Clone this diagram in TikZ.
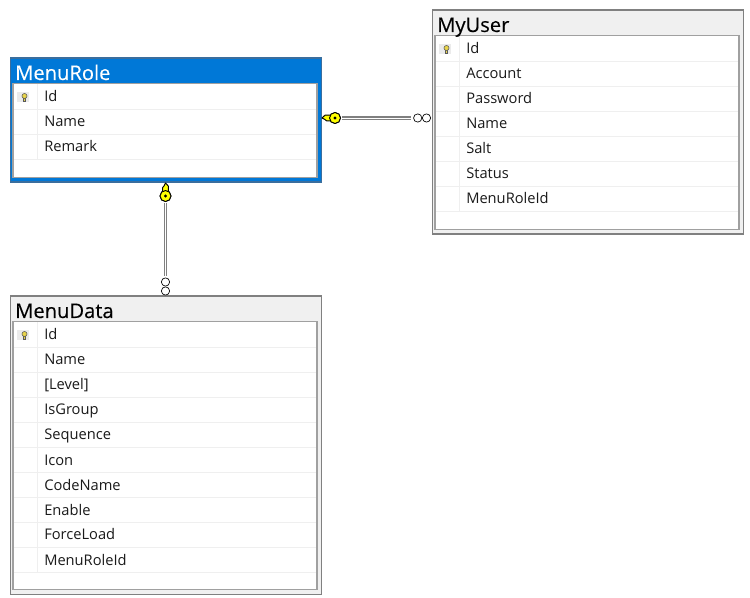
\documentclass[tikz,border=0pt]{standalone}
\usepackage{fontspec}
\setmainfont{Open Sans}
\newfontfamily\titlefont[FakeBold=0.25]{Open Sans}
\definecolor{selblue}{HTML}{0078D7}
\definecolor{selframe}{HTML}{3A6E9E}
\definecolor{framegray}{HTML}{808080}
\definecolor{titlegray}{HTML}{F0F0F0}
\definecolor{rowline}{HTML}{EFEFEF}
\definecolor{innergray}{HTML}{A0A0A0}
\definecolor{rowtext}{HTML}{1A1A1A}
\definecolor{keyyellow}{HTML}{FFFF00}
\definecolor{keygold}{HTML}{E8D44A}
\tikzset{
  tableframe/.style={draw=#1,line width=.9pt,inner sep=0pt,anchor=north west},
  innerframe/.style={draw=innergray,fill=white,line width=1.1pt},
  rowsep/.style={draw=rowline,line width=.75pt},
  rowlabel/.style={anchor=base west,inner sep=0pt,font=\fontsize{11pt}{12pt}\selectfont,text=rowtext},
  titlelabel/.style={anchor=base west,inner sep=0pt,font=\titlefont\fontsize{15.1pt}{16pt}\selectfont},
  relline/.style={draw=framegray,double=white,double distance=.7pt,line width=.9pt,shorten <=1pt,shorten >=1.5pt},
  loopend/.style={circle,draw=black,fill=white,line width=.5pt,minimum size=6.2pt,inner sep=0pt},
  keyend/.style={circle,draw=black,fill=keyyellow,line width=.7pt,minimum size=8.2pt,inner sep=0pt},
  keydot/.style={fill=black},
  keyshaft/.style={draw=black,fill=keyyellow,line width=.7pt,line join=round},
  rowkeybg/.style={fill=black!8,draw=none},
  rowkeyicon/.style={fill=keygold,draw=black!65,line width=.4pt},
}
% name, x, y, w, h, frame colour, title fill, rows
\newcommand{\dbtable}[8]{%
  \node[tableframe=#6,fill=#7,minimum width=#4*.75pt,minimum height=#5*.75pt] (#1) at (#2,#3) {};
  \draw[innerframe] (#2+3.5,#3+26) rectangle (#2+#4-3.5,#3+#5-4);
  \draw[rowsep] (#2+27.5,#3+27) -- (#2+27.5,{#3+#5-21});
  \fill[rowkeybg] (#2+7,#3+35) rectangle (#2+19,#3+45);
  \filldraw[rowkeyicon] (#2+14,#3+39) rectangle (#2+16,#3+44);
  \filldraw[rowkeyicon] (#2+15,#3+38.5) circle (1.9pt);
  \foreach \lab [count=\i from 0] in {#8} {
    \node[rowlabel] (#1-row\i) at (#2+34.5,#3+44.5+25*\i) {\lab};
    \draw[rowsep] (#2+4.5,#3+52+25*\i) -- (#2+#4-4.5,#3+52+25*\i);
  }
}
\begin{document}
\begin{tikzpicture}[x=.75pt,y=-.75pt]
\useasboundingbox (0,0) rectangle (750,598);
\fill[white] (0,0) rectangle (750,598);

\dbtable{role}{9.5}{57.5}{311}{124}{selframe}{selblue}{Id,Name,Remark}
\node[titlelabel,text=white] (roletitle) at (15,80) {MenuRole};

\dbtable{user}{431.5}{9.5}{311}{224}{framegray}{titlegray}{Id,Account,Password,Name,Salt,Status,MenuRoleId}
\node[titlelabel,text=black] (usertitle) at (437,32) {MyUser};

\dbtable{data}{9.5}{295.5}{311}{298}{framegray}{titlegray}{Id,Name,[Level],IsGroup,Sequence,Icon,CodeName,Enable,ForceLoad,MenuRoleId}
\node[titlelabel,text=black] (datatitle) at (15,318) {MenuData};

% relationship MenuRole -- MyUser
\node[loopend] (uloopa) at (417.7,118) {};
\node[loopend] (uloopb) at (426.5,118) {};
\node[keyend] (ukey) at (335,118) {};
\coordinate (utip) at (322,118);
\draw[relline] (ukey.east) -- (uloopa.west);
\draw[keyshaft] (utip) -- ([shift={(-10,-2.8)}]ukey.center) -- ([shift={(0,-2.8)}]ukey.center) -- ([shift={(0,2.8)}]ukey.center) -- ([shift={(-8.5,2.8)}]ukey.center) -- ([shift={(-10,1.5)}]ukey.center) -- cycle;
\node[keyend] at (ukey) {};
\fill[keydot] (ukey) circle (1.3pt);

% relationship MenuRole -- MenuData
\node[loopend] (dloopa) at (165.5,282) {};
\node[loopend] (dloopb) at (165.5,291) {};
\node[keyend] (dkey) at (165.5,196) {};
\coordinate (dtip) at (165.5,183);
\draw[relline] (dkey.south) -- (dloopa.north);
\draw[keyshaft] (dtip) -- ([shift={(2.8,-10)}]dkey.center) -- ([shift={(2.8,0)}]dkey.center) -- ([shift={(-2.8,0)}]dkey.center) -- ([shift={(-2.8,-8.5)}]dkey.center) -- ([shift={(-1.5,-10)}]dkey.center) -- cycle;
\node[keyend] at (dkey) {};
\fill[keydot] (dkey) circle (1.3pt);
\end{tikzpicture}
\end{document}
